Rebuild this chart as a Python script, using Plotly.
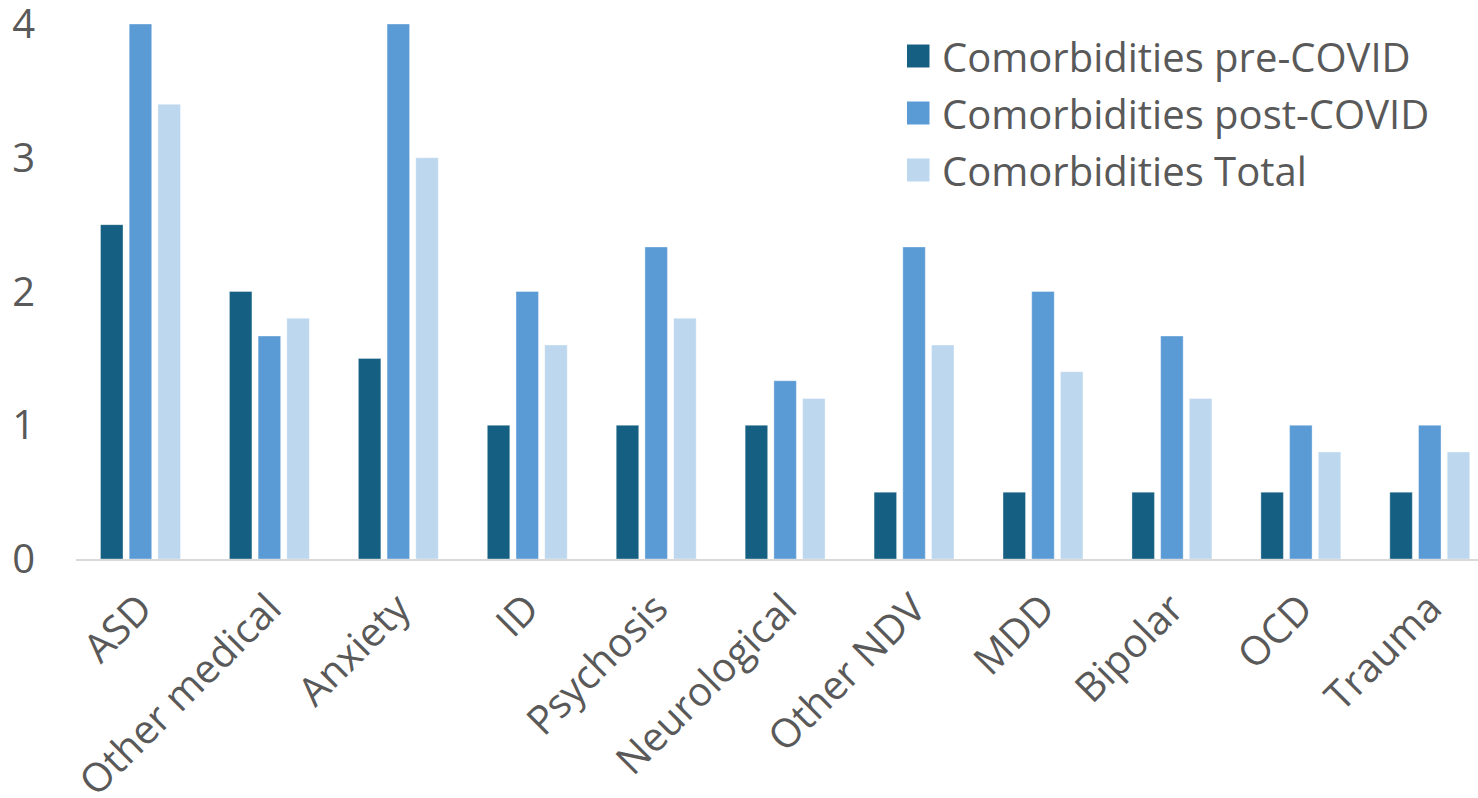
import plotly.graph_objects as go

categories = ["ASD", "Other medical", "Anxiety", "ID", "Psychosis", "Neurological",
              "Other NDV", "MDD", "Bipolar", "OCD", "Trauma"]
pre_covid = [2.5, 2.0, 1.5, 1.0, 1.0, 1.0, 0.5, 0.5, 0.5, 0.5, 0.5]
post_covid = [4.0, 1.667, 4.0, 2.0, 2.333, 1.333, 2.333, 2.0, 1.667, 1.0, 1.0]
total = [3.4, 1.8, 3.0, 1.6, 1.8, 1.2, 1.6, 1.4, 1.2, 0.8, 0.8]

series_names = ["Comorbidities pre-COVID", "Comorbidities post-COVID", "Comorbidities Total"]
series_values = [pre_covid, post_covid, total]
series_colors = ["#156082", "#5B9BD5", "#BDD7EE"]

W, H = 1478, 798
ML, MR, MT, MB = 76, 0, 24, 239
FONT = "Open Sans, sans-serif"
FS = 40
TEXT = "#595959"

fig = go.Figure()
for name, vals, col in zip(series_names, series_values, series_colors):
    fig.add_trace(go.Bar(
        x=categories, y=vals, name=name,
        marker=dict(color=col, line=dict(color="rgba(255,255,255,0.35)", width=1)),
        showlegend=False,
    ))

# Legend built from squares and labels, positioned in pixel terms
pw, ph = W - ML - MR, H - MT - MB
def px_x(x):
    return (x - ML) / pw
def px_y(y):
    return (H - MB - y) / ph

shapes, annotations = [], []
row_y = [56, 113, 170]
for name, col, cy in zip(series_names, series_colors, row_y):
    shapes.append(dict(type="rect", xref="paper", yref="paper",
                       x0=px_x(907), x1=px_x(929.5), y0=px_y(cy + 11.5), y1=px_y(cy - 11.5),
                       fillcolor=col, line=dict(width=0)))
    annotations.append(dict(xref="paper", yref="paper", x=px_x(940), y=px_y(cy),
                            xanchor="left", yanchor="middle", showarrow=False,
                            text=name, font=dict(family=FONT, size=FS, color=TEXT)))

fig.update_layout(
    width=W, height=H,
    margin=dict(l=ML, r=MR, t=MT, b=MB, pad=0, autoexpand=False),
    paper_bgcolor="white", plot_bgcolor="white",
    barmode="group", bargap=0.332, bargroupgap=0.216,
    font=dict(family=FONT, size=FS, color=TEXT),
    shapes=shapes, annotations=annotations,
    xaxis=dict(range=[-0.5, 10.374], showgrid=False, zeroline=False, automargin=False,
               showline=True, linecolor="#D9D9D9", linewidth=1.5,
               tickangle=-45, ticks="", ticklabelstandoff=8,
               ticklabeloverflow="allow",
               tickfont=dict(family=FONT, size=FS, color=TEXT)),
    yaxis=dict(range=[0, 4], dtick=1, showgrid=False, zeroline=False, showline=False,
               automargin=False, ticks="", ticklabelstandoff=40, ticklabeloverflow="allow",
               tickfont=dict(family=FONT, size=FS, color=TEXT)),
)

fig.write_html("out.html")
